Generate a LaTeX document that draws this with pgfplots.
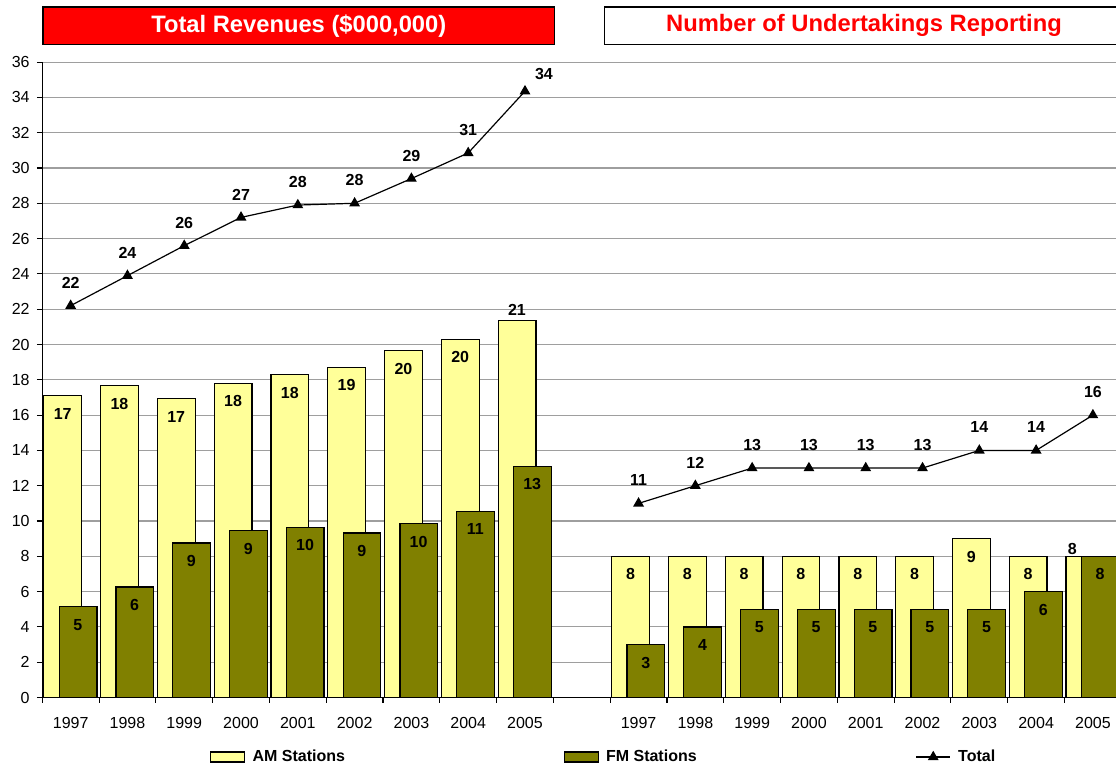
\documentclass[border=0pt]{standalone}
\usepackage{fontspec}
\setmainfont{Liberation Sans}
\usepackage{pgfplots}
\usepackage{pgfplotstable}
\pgfplotsset{compat=1.18}

\definecolor{amyellow}{HTML}{FFFF99}
\definecolor{fmolive}{HTML}{808000}
\definecolor{xlred}{HTML}{FF0000}

\newcommand\lab{\bfseries\fontsize{12}{14}\selectfont}

% slots 0-8: revenues 1997-2005, slot 9 empty, 10-18: undertakings 1997-2005
% dx, dy: label offset from the category centre / point, in pt
\pgfplotstableread{
x  y      dx     dy
0  17.10  -6     -13.5
1  17.67  -6     -13.5
2  16.94  -6     -13.5
3  17.80  -6     -13.5
4  18.30  -6     -13.5
5  18.70  -6     -13.5
6  19.64  -6     -13.5
7  20.30  -6     -13.5
8  21.34  -6     8.5
10 8      -6     -13.5
11 8      -6     -13.5
12 8      -6     -13.5
13 8      -6     -13.5
14 8      -6     -13.5
15 8      -6     -13.5
16 9      -6     -13.5
17 8      -6     -13.5
18 8      -15.5  5.5
}\am

\pgfplotstableread{
x  y      dx   dy
0  5.15   5.4  -13.5
1  6.26   5.4  -13.5
2  8.75   5.4  -13.5
3  9.45   5.4  -13.5
4  9.64   5.4  -13.5
5  9.32   5.4  -13.5
6  9.86   5.4  -13.5
7  10.56  5.4  -13.5
8  13.10  5.4  -13.5
10 3      5.4  -13.5
11 4      5.4  -13.5
12 5      5.4  -13.5
13 5      5.4  -13.5
14 5      5.4  -13.5
15 5      5.4  -13.5
16 5      5.4  -13.5
17 6      5.4  -13.5
18 8      5.4  -13.5
}\fm

\pgfplotstableread{
x  y      dx     dy
0  22.20  0      17.2
1  23.90  0      17.2
2  25.60  0      17.2
3  27.20  0      17.2
4  27.90  0      17.2
5  28.00  0      17.2
6  29.40  0      17.2
7  30.85  0      17.2
8  34.35  14.2   13
}\totrev

\pgfplotstableread{
x  y   dx  dy
10 11  0   17.2
11 12  0   17.2
12 13  0   17.2
13 13  0   17.2
14 13  0   17.2
15 13  0   17.2
16 14  0   17.2
17 14  0   17.2
18 16  0   17.2
}\totund

\pgfplotsset{
  lbl/.style={
    point meta=y,
    nodes near coords={\pgfmathprintnumber[fixed,precision=0]{\pgfplotspointmeta}},
    visualization depends on={\thisrow{dx} \as \dx},
    visualization depends on={\thisrow{dy} \as \dy},
    every node near coord/.append style={anchor=center, xshift=\dx pt, yshift=\dy pt,
      font=\lab, text=black, inner sep=0pt},
  },
  barleg/.style={legend image code/.code={\draw[##1] (0pt,-3.8pt) rectangle (25.5pt,3.8pt);}},
  lineleg/.style={legend image code/.code={\draw[mark repeat=2, mark phase=2, ##1]
    plot coordinates {(0pt,0pt)(12.75pt,0pt)(25.5pt,0pt)};}},
}

\begin{document}
\begin{tikzpicture}
\path[use as bounding box] (0,0) rectangle (837pt,576.75pt);

\begin{axis}[
  at={(31.7pt,53.6pt)}, anchor=south west,
  scale only axis, width=805.3pt, height=476.6pt,
  xmin=-0.5, xmax=18.407, ymin=0, ymax=36,
  axis x line*=bottom, axis y line*=left,
  axis line style={black, line width=0.8pt},
  tick align=outside,
  major tick length=4pt, minor tick length=4pt,
  xtick={0,1,2,3,4,5,6,7,8,10,11,12,13,14,15,16,17,18},
  xticklabels={1997,1998,1999,2000,2001,2002,2003,2004,2005,
               1997,1998,1999,2000,2001,2002,2003,2004,2005},
  minor xtick={-0.5,0.5,...,18.5},
  major x tick style={draw=none},
  minor x tick style={black, line width=0.8pt},
  ytick={0,2,...,36},
  y tick style={black, line width=0.8pt},
  ymajorgrids, grid style={black!38, line width=0.8pt},
  /pgf/number format/assume math mode=true,
  ticklabel style={font=\fontsize{12}{14}\selectfont},
  xticklabel style={yshift=-7pt},
  yticklabel style={xshift=-2pt},
  legend columns=3,
  legend style={at={(0.156,-0.0936)}, anchor=west, draw=none, fill=none,
    inner sep=0pt, font=\bfseries\fontsize{12}{14}\selectfont,
    cells={anchor=west, inner xsep=0pt, inner ysep=1pt},
    /tikz/column sep=0pt},
]

\addplot[ybar, bar width=0.665, bar shift=-0.14, fill=amyellow, draw=black,
  line width=0.9pt, lbl, barleg] table[x=x, y=y] {\am};
\addlegendentry{\makebox[234.7pt][l]{\hspace{3.5pt}AM Stations}}

\addplot[ybar, bar width=0.665, bar shift=0.13, fill=fmolive, draw=black,
  line width=0.9pt, lbl, barleg] table[x=x, y=y] {\fm};
\addlegendentry{\makebox[233.7pt][l]{\hspace{3.5pt}FM Stations}}

\addplot[black, line width=0.9pt, mark=triangle*, mark size=3.8pt,
  mark options={solid, fill=black}, lbl, lineleg]
  table[x=x, y=y] {\totrev};
\addlegendentry{\hspace{3.5pt}Total}

\addplot[black, line width=0.9pt, mark=triangle*, mark size=3.8pt,
  mark options={solid, fill=black}, lbl, forget plot]
  table[x=x, y=y] {\totund};
\end{axis}

% panel titles
\draw[fill=xlred, draw=black, line width=1pt] (32.2pt,543.3pt) rectangle (416pt,571.5pt);
\node[text=white, font=\bfseries\fontsize{17.8}{20}\selectfont] at (224.1pt,557.4pt)
  {Total Revenues (\$000,000)};
\draw[fill=white, draw=black, line width=1pt] (453.5pt,543.3pt) rectangle (840pt,571.5pt);
\node[text=xlred, font=\bfseries\fontsize{17.8}{20}\selectfont] at (648pt,557.4pt)
  {Number of Undertakings Reporting};
\end{tikzpicture}
\end{document}
